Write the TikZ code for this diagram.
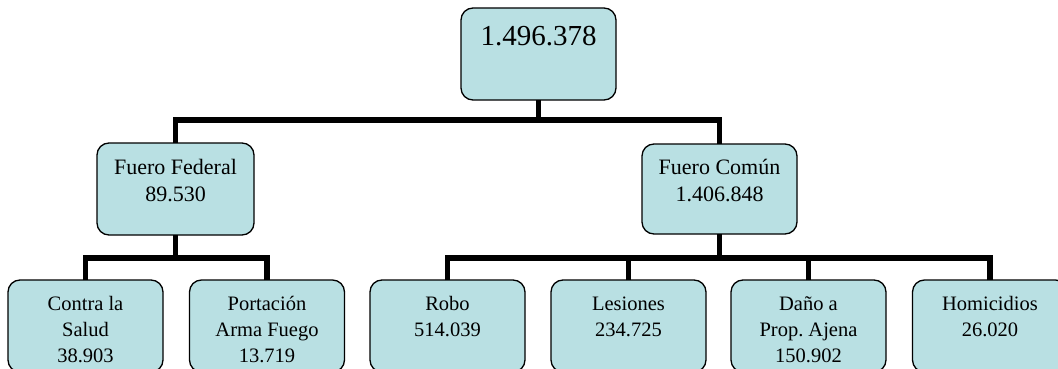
\documentclass[tikz,border=0pt]{standalone}
\usepackage{fontspec}
\setmainfont{Liberation Serif}
\frenchspacing
\definecolor{boxfill}{HTML}{B9E0E3}
\tikzset{
  orgbox/.style={draw=black, line width=1.3pt, fill=boxfill, rounded corners=12pt, inner sep=0pt, outer sep=0pt},
  conn/.style={line width=5.5pt, line join=miter, line cap=butt},
}
\newcommand{\orgtext}[6]{\parbox[c][#2][t]{#1}{\centering\fontsize{#3}{#4}\selectfont\rule{0pt}{#5}#6\par}}
\begin{document}
\begin{tikzpicture}[x=1pt,y=-1pt]
\useasboundingbox (0,0) rectangle (1058,369);
% boxes
\node[orgbox] (top) at (538.5,54) {\orgtext{155pt}{92pt}{29pt}{34pt}{37pt}{1.496.378}};
\node[orgbox] (ff) at (175.5,189) {\orgtext{157pt}{92pt}{22pt}{27pt}{31pt}{Fuero Federal\\89.530}};
\node[orgbox] (fc) at (719.5,189) {\orgtext{155pt}{90pt}{22pt}{27pt}{30pt}{Fuero Común\\1.406.848}};
\node[orgbox] (cs) at (85.5,326) {\orgtext{155pt}{92pt}{20.5pt}{26pt}{30pt}{Contra la\\Salud\\38.903}};
\node[orgbox] (pa) at (267,326) {\orgtext{155pt}{92pt}{20.5pt}{26pt}{30pt}{Portación\\Arma Fuego\\13.719}};
\node[orgbox] (ro) at (447.5,326) {\orgtext{155pt}{92pt}{20.5pt}{26pt}{30pt}{Robo\\514.039}};
\node[orgbox] (le) at (628.5,326) {\orgtext{155pt}{92pt}{20.5pt}{26pt}{30pt}{Lesiones\\234.725}};
\node[orgbox] (da) at (808.5,326) {\orgtext{155pt}{92pt}{20.5pt}{26pt}{30pt}{Daño a\\Prop. Ajena\\150.902}};
\node[orgbox] (ho) at (990,326) {\orgtext{155pt}{92pt}{20.5pt}{26pt}{30pt}{Homicidios\\26.020}};
% junctions
\coordinate (j0) at (538.5,120);
\coordinate (j1) at (175.5,258);
\coordinate (j2) at (719.5,258);
% connectors
\draw[conn] (top.south) -- (j0);
\draw[conn] (ff.north) |- (j0);
\draw[conn] (fc.north) |- (j0);
\draw[conn] (ff.south) -- (j1);
\draw[conn] (cs.north) |- (j1);
\draw[conn] (pa.north) |- (j1);
\draw[conn] (fc.south) -- (j2);
\draw[conn] (ro.north) |- (j2);
\draw[conn] (le.north) |- (j2);
\draw[conn] (da.north) |- (j2);
\draw[conn] (ho.north) |- (j2);
\end{tikzpicture}
\end{document}
